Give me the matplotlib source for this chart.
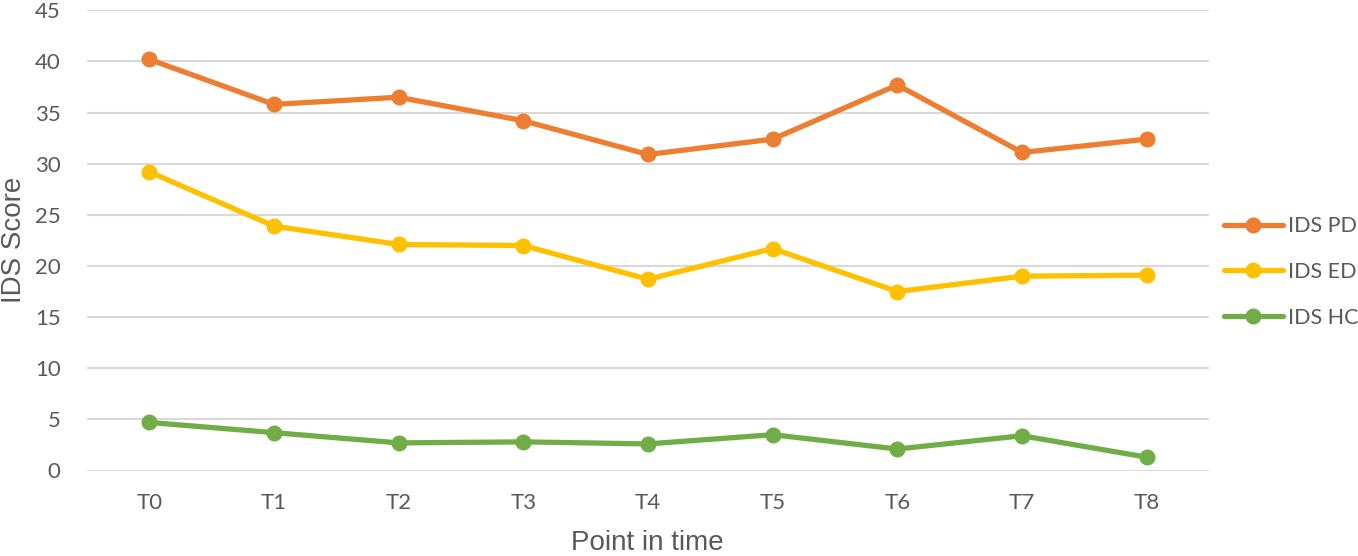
import matplotlib
matplotlib.use("Agg")
import matplotlib.pyplot as plt

categories = ["T0", "T1", "T2", "T3", "T4", "T5", "T6", "T7", "T8"]
ids_pd = [40.2, 35.8, 36.5, 34.2, 30.9, 32.4, 37.7, 31.1, 32.4]
ids_ed = [29.2, 23.9, 22.1, 22.0, 18.7, 21.7, 17.5, 19.0, 19.1]
ids_hc = [4.7, 3.7, 2.7, 2.8, 2.6, 3.5, 2.1, 3.4, 1.3]
series_names = ["IDS PD", "IDS ED", "IDS HC"]
colors = ["#ED7D31", "#FFC000", "#70AD47"]
yticks = [0, 5, 10, 15, 20, 25, 30, 35, 40, 45]

W, H = 1358, 556
fig = plt.figure(figsize=(W / 100, H / 100), dpi=100)
left, right = 87 / W, 1209 / W
top, bottom = 1 - 10.3 / H, 1 - 470.5 / H
ax = fig.add_axes([left, bottom, right - left, top - bottom])

x = list(range(len(categories)))
handles = []
for vals, name, c in zip([ids_pd, ids_ed, ids_hc], series_names, colors):
    ln, = ax.plot(x, vals, color=c, lw=3.8, marker="o", markersize=10.5,
                  solid_capstyle="round", solid_joinstyle="round", label=name,
                  zorder=3)
    handles.append(ln)

ax.set_xlim(-0.5, len(categories) - 0.5)
ax.set_ylim(0, 45)
ax.set_yticks(yticks)
ax.set_xticks(x)
ax.set_xticklabels(categories)
ax.grid(axis="y", color="#D9D9D9", lw=1.5, zorder=0)
ax.set_axisbelow(True)
for s in ax.spines.values():
    s.set_visible(False)
ax.tick_params(axis="both", length=0, labelsize=16, labelcolor="#595959")
ax.tick_params(axis="x", pad=16)
ax.tick_params(axis="y", pad=19)
for lab in ax.get_xticklabels() + ax.get_yticklabels():
    lab.set_fontfamily("Lato")

fig.text(14 / W, 1 - 240 / H, "IDS Score", rotation=90, ha="center", va="center",
         fontsize=20, color="#595959", family="Liberation Sans")
fig.text(647.5 / W, 1 - 543 / H, "Point in time", ha="center", va="center",
         fontsize=20, color="#595959", family="Liberation Sans")

leg = fig.legend(handles=handles, labels=series_names, loc="center left",
                 bbox_to_anchor=(1205 / W, 1 - 272 / H), frameon=False,
                 handlelength=2.7, handletextpad=0.25, labelspacing=1.2,
                 prop={"family": "Lato", "size": 15.5})
for t in leg.get_texts():
    t.set_color("#595959")

fig.savefig("out.png", dpi=100)
